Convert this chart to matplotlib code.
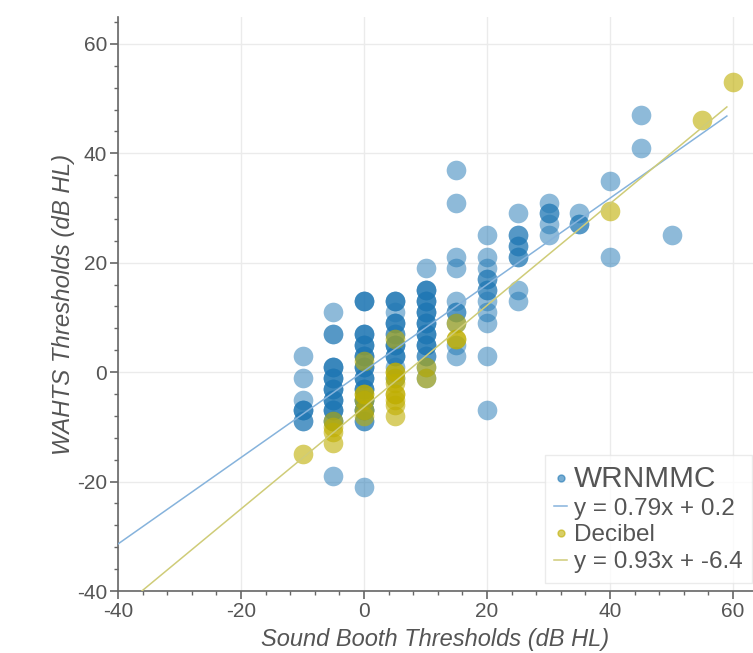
import matplotlib
matplotlib.use("Agg")
import matplotlib.pyplot as plt
from matplotlib.lines import Line2D
from matplotlib.ticker import MultipleLocator

plt.rcParams['font.family'] = ['Liberation Sans', 'DejaVu Sans']
plt.rcParams['axes.unicode_minus'] = False

# WRNMMC data: sound booth threshold (x) vs WAHTS threshold (y)
wrn_cols = [-10, -5, 0, 5, 10, 15, 20, 25, 30, 35, 40, 45, 50]
wrn_vals = [
    [3, -1, -5, -7, -7, -7, -9, -9],
    [11, 7, 7, 1, 1, 1, -1, -1, -1, -3, -3, -3, -5, -5, -5, -7, -7, -7, -9, -9, -19],
    [13, 13, 13, 7, 7, 7, 5, 5, 5, 3, 3, 3, 1, 1, 1, -1, -1, -1, -3, -3, -3,
     -5, -5, -5, -7, -7, -7, -9, -9, -21],
    [13, 13, 13, 11, 9, 9, 9, 7, 7, 5, 5, 5, 3, 3, 3, 1, -1],
    [19, 15, 15, 15, 13, 13, 13, 11, 11, 11, 9, 9, 9, 7, 7, 7, 5, 5, 5, 3, 3, 1, -1],
    [37, 31, 21, 19, 13, 11, 11, 9, 5, 3],
    [25, 21, 19, 17, 17, 15, 15, 13, 11, 9, 3, -7],
    [29, 25, 25, 23, 23, 21, 21, 15, 13],
    [31, 29, 29, 27, 25],
    [29, 27, 27],
    [35, 21],
    [47, 41],
    [25],
]
wrn_x = [c for c, vals in zip(wrn_cols, wrn_vals) for _ in vals]
wrn_y = [v for vals in wrn_vals for v in vals]

# Decibel data
dec_cols = [-10, -5, 0, 5, 10, 15, 40, 55, 60]
dec_vals = [
    [-15],
    [-9, -10, -11, -13],
    [2, -4, -4, -5, -7, -8],
    [6, 0, 0, -1, -2, -4, -4, -5, -6, -8],
    [1, -1],
    [9, 6, 6],
    [29.5],
    [46],
    [53],
]
dec_x = [c for c, vals in zip(dec_cols, dec_vals) for _ in vals]
dec_y = [v for vals in dec_vals for v in vals]

# Fitted lines (from the legend)
wrn_slope, wrn_icpt = 0.79, 0.2
dec_slope, dec_icpt = 0.93, -6.4
fit_x = [-40, 59]

series_labels = ['WRNMMC', 'y = 0.79x + 0.2', 'Decibel', 'y = 0.93x + -6.4']
x_label = 'Sound Booth Thresholds (dB HL)'
y_label = 'WAHTS Thresholds (dB HL)'

blue = '#1f77b4'
yellow = '#bfae00'
blue_line = '#86b3dc'
yellow_line = '#cfcc78'
text_col = '#555555'

fig = plt.figure(figsize=(7.53, 6.53), dpi=100)
ax = fig.add_axes([0.1567, 0.0949, 0.8433, 0.879])

ax.scatter(wrn_x, wrn_y, s=200, color=blue, alpha=0.5, linewidths=0, zorder=2)
ax.scatter(dec_x, dec_y, s=200, color=yellow, alpha=0.6, linewidths=0, zorder=3)

ax.plot(fit_x, [wrn_slope * v + wrn_icpt for v in fit_x], color=blue_line, lw=1.1, zorder=4)
ax.plot(fit_x, [dec_slope * v + dec_icpt for v in fit_x], color=yellow_line, lw=1.1, zorder=4)

ax.set_xlim(-40, 63.25)
ax.set_ylim(-40, 64.9)
ax.xaxis.set_major_locator(MultipleLocator(20))
ax.xaxis.set_minor_locator(MultipleLocator(4))
ax.yaxis.set_major_locator(MultipleLocator(20))
ax.yaxis.set_minor_locator(MultipleLocator(4))

ax.grid(True, which='major', color='#ebebeb', lw=1, zorder=0)
ax.set_axisbelow(True)
for s in ['top', 'right']:
    ax.spines[s].set_visible(False)
for s in ['left', 'bottom']:
    ax.spines[s].set_color('#666666')
    ax.spines[s].set_linewidth(1.2)

ax.tick_params(which='major', direction='out', length=6, width=1.2, color='#666666',
               labelsize=15, labelcolor=text_col, pad=2)
ax.tick_params(which='minor', direction='out', length=3, width=1, color='#666666')

ax.set_xlabel(x_label, fontsize=17, style='italic', color=text_col, labelpad=5)
ax.set_ylabel(y_label, fontsize=17.3, style='italic', color=text_col, labelpad=1)

handles = [
    Line2D([], [], ls='none', marker='o', ms=5, color=blue, alpha=0.6),
    Line2D([], [], color=blue_line, lw=1.1),
    Line2D([], [], ls='none', marker='o', ms=5, color=yellow, alpha=0.6),
    Line2D([], [], color=yellow_line, lw=1.1),
]
leg = ax.legend(handles, series_labels, loc='lower left', bbox_to_anchor=(0.672, 0.014),
                fontsize=17.5, frameon=True, fancybox=False, edgecolor='#e6e6e6',
                handlelength=0.5, handletextpad=0.3, labelspacing=0.2,
                borderpad=0.4, borderaxespad=0)
leg.get_frame().set_linewidth(1)
for i, t in enumerate(leg.get_texts()):
    t.set_color(text_col)
    if i == 0:
        t.set_fontsize(21.4)

fig.savefig('out.png', dpi=100)
